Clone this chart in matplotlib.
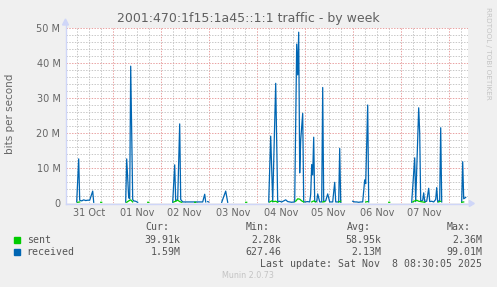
import numpy as np
import matplotlib
matplotlib.use("Agg")
import matplotlib.pyplot as plt
from matplotlib.lines import Line2D
from matplotlib.patches import Polygon, Rectangle
import matplotlib.transforms as mtransforms

# ---------------- data (hours since 31 Oct 00:00, values in Mbit/s) ----------------
N = None
recv_hours = [6.0, 7.0, 7.5, 8.5, 9.5, 10.5, 11.5, 12.5, 14.0, 14.5, N,
              30.5, 31.0, 32.0, 32.5, 33.0, 34.0, 34.5, 35.5, 36.5, N,
              54.0, 55.0, 55.5, 56.5, 57.5, 58.0, 59.0, 61.0, 63.0, 65.0, 67.0, 69.0, 70.0, 70.5, N,
              71.5, 72.0, N,
              78.5, 79.5, 80.5, 81.5, N,
              102.0, 103.0, 104.0, 105.5, 106.5, 107.5, 108.5, 109.5, 110.5, 111.5, 112.5, 113.5, 114.5,
              115.0, 116.0, 116.5, 117.0, 117.5, 118.0, 119.0, 119.5, 120.0, 121.5, 122.5,
              123.0, 123.5, 124.0, 124.5, 125.0, 126.0, 126.5, 127.5, 128.5, 129.0, 129.5,
              130.5, 131.5, 132.5, 134.0, 135.0, 135.5, 137.0, 137.5, 138.0, N,
              144.0, 145.0, 146.0, 147.0, 148.0, 149.0, 150.0, 150.5, 151.5, 152.0, N,
              173.5, 175.0, 175.5, 177.0, 177.5, 178.0, 179.0, 179.5, 180.0, 181.0, 182.0, 182.5,
              183.5, 184.5, 185.5, 186.0, 186.5, 187.5, 188.0, 188.5, N,
              198.5, 199.0, 199.5, 200.5]
recv_values = [0.3, 12.6, 0.8, 0.6, 0.9, 0.7, 0.8, 0.8, 3.4, 0.2, N,
               0.3, 12.6, 1.5, 1.2, 39.1, 1.0, 0.6, 0.5, 0.2, N,
               0.2, 10.9, 0.6, 1.0, 22.6, 1.0, 0.3, 0.3, 0.3, 0.3, 0.3, 0.3, 2.5, 0.3, N,
               0.4, 0.3, N,
               0.2, 1.8, 3.4, 0.2, N,
               0.3, 19.1, 0.3, 34.2, 0.4, 0.5, 0.3, 0.6, 0.9, 0.4, 0.3, 0.2, 0.3,
               0.3, 45.4, 36.6, 48.8, 8.6, 18.0, 25.6, 0.3, 0.3, 0.4, 0.3,
               2.5, 11.0, 8.0, 18.8, 0.4, 0.4, 2.6, 0.3, 0.3, 33.0, 0.4,
               0.6, 2.6, 0.3, 0.3, 5.9, 0.3, 0.3, 15.6, 0.2, N,
               0.5, 0.3, 0.3, 0.2, 0.3, 0.3, 6.6, 5.5, 28.0, 0.3, N,
               0.2, 12.9, 0.4, 27.2, 20.0, 0.5, 0.8, 2.9, 0.4, 0.5, 4.2, 0.4,
               0.5, 0.3, 1.0, 4.4, 0.3, 0.8, 21.5, 0.3, N,
               0.3, 11.8, 1.2, 1.6]

sent_hours = [6.5, 7.5, N, 18.0, 18.5, N, 31.0, 32.0, 33.0, 34.0, N, 41.5, 42.0, N,
              54.5, 55.5, 56.5, 57.5, 58.5, N, 65.0, 65.5, N, 90.5, 91.0, N,
              102.5, 103.5, 104.5, 105.5, 106.5, N, 115.5, 116.5, 117.5, 118.5, 119.5, N,
              123.5, 124.5, 125.5, N, 129.0, 130.0, N, 137.0, 138.0, N, 150.5, 151.5, N,
              162.0, 162.5, N, 174.0, 175.0, 176.0, 177.0, 178.0, 179.0, 180.0, N,
              187.0, 188.0, N, 198.5, 199.5]
sent_values = [0.2, 0.3, N, 0.2, 0.2, N, 0.2, 0.6, 0.9, 0.3, N, 0.2, 0.2, N,
               0.3, 0.5, 0.8, 0.4, 0.2, N, 0.2, 0.2, N, 0.2, 0.2, N,
               0.3, 0.6, 0.4, 0.5, 0.2, N, 0.5, 1.2, 1.1, 0.6, 0.3, N,
               0.3, 0.6, 0.3, N, 0.3, 0.4, N, 0.3, 0.5, N, 0.3, 0.4, N,
               0.2, 0.2, N, 0.3, 0.6, 0.8, 0.5, 0.4, 0.3, 0.2, N,
               0.3, 0.5, N, 0.2, 0.3]

day_labels = ["31 Oct", "01 Nov", "02 Nov", "03 Nov", "04 Nov", "05 Nov", "06 Nov", "07 Nov"]
y_ticks_m = [0, 10, 20, 30, 40, 50]
y_tick_labels = ["0", "10 M", "20 M", "30 M", "40 M", "50 M"]

legend_names = ["sent", "received"]
legend_colors = ["#00CC00", "#0066B3"]
stat_headers = ["Cur:", "Min:", "Avg:", "Max:"]
sent_stats = ["39.91k", "2.28k", "58.95k", "2.36M"]
recv_stats = ["1.59M", "627.46", "2.13M", "99.01M"]

title = "2001:470:1f15:1a45::1:1 traffic - by week"
last_update = "Last update: Sat Nov  8 08:30:05 2025"

# ---------------- figure ----------------
W, H = 497, 287
fig = plt.figure(figsize=(W / 100, H / 100), dpi=100, facecolor="#F0F0F0")

def fx(px):
    return px / W

def fy(py):
    return 1 - py / H

left, right, top, bottom = 66, 468.3, 28, 203
ax = fig.add_axes([fx(left), fy(bottom), (right - left) / W, (bottom - top) / H])
ax.set_facecolor("white")
x0, x1 = 0.65, 0.65 + (right - left) * 0.5
ax.set_xlim(x0, x1)
ax.set_ylim(0, 50e6)

for s in ax.spines.values():
    s.set_visible(False)

# grid
majors_x = np.arange(24, x1, 24)
minors_x = [h for h in np.arange(6, x1, 6) if h % 24 != 0]
ax.set_xticks(majors_x)
ax.set_xticks(minors_x, minor=True)
ax.set_xticklabels([])
ax.set_yticks([v * 1e6 for v in y_ticks_m])
ax.set_yticklabels(y_tick_labels)
ax.set_yticks(np.arange(2e6, 50e6, 2e6), minor=True)
ax.tick_params(axis="both", which="both", length=0)
ax.tick_params(axis="y", labelsize=7, labelcolor="#666666", pad=4)
ax.grid(True, which="major", color="#E9A3A3", linestyle=(0, (1.4, 1.4)), linewidth=0.72, zorder=0)
ax.grid(True, which="minor", color="#C8C8C8", linestyle=(0, (1.4, 1.4)), linewidth=0.72, zorder=0)
ax.set_axisbelow(True)

# x labels at noon
trans = mtransforms.blended_transform_factory(ax.transData, fig.transFigure)
for i, lab in enumerate(day_labels):
    ax.text(12 + 24 * i, fy(213), lab, transform=trans, ha="center", va="center",
            fontsize=7, color="#666666")

def arr(vals, scale=1.0):
    return np.array([np.nan if v is None else v * scale for v in vals], dtype=float)

ax.plot(arr(recv_hours), arr(recv_values, 1e6), color="#0066B3", linewidth=0.9, zorder=3)
ax.plot(arr(sent_hours), arr(sent_values, 1e6), color="#00CC00", linewidth=0.9, zorder=4)

# axes lines with arrows (munin style)
axis_col = "#CFD6F8"
fig.add_artist(Line2D([fx(left - 0.5), fx(left - 0.5)], [fy(bottom + 0.5), fy(24)],
                      color=axis_col, linewidth=1.0))
fig.add_artist(Line2D([fx(left - 0.5), fx(right + 2)], [fy(bottom + 0.5), fy(bottom + 0.5)],
                      color=axis_col, linewidth=1.0))
fig.add_artist(Polygon([[fx(left - 3.5), fy(25)], [fx(left + 2.5), fy(25)], [fx(left - 0.5), fy(19)]],
                       closed=True, color=axis_col, transform=fig.transFigure))
fig.add_artist(Polygon([[fx(right + 1), fy(bottom - 2.5)], [fx(right + 1), fy(bottom + 3.5)],
                        [fx(right + 6), fy(bottom + 0.5)]],
                       closed=True, color=axis_col, transform=fig.transFigure))

# texts
fig.text(fx(248), fy(18.5), title, ha="center", va="center", fontsize=9, color="#606060")
fig.text(fx(10), fy(114), "bits per second", rotation=90, ha="center", va="center",
         fontsize=7.5, color="#666666")
fig.text(fx(488), fy(53), "RRDTOOL / TOBI OETIKER", rotation=270, ha="center", va="center",
         fontsize=5.2, color="#C4C4C4")

mono = dict(family="DejaVu Sans Mono", fontsize=7.1, color="#555555", va="center")
header_x = [145.3, 246, 347, 447]
for hx, ht in zip(header_x, stat_headers):
    fig.text(fx(hx), fy(227.3), ht, ha="left", **mono)

stat_right = [180.5, 281.7, 381.7, 482.3]
rows_y = [240, 252]
for (name, col, stats, ry) in zip(legend_names, legend_colors, [sent_stats, recv_stats], rows_y):
    fig.add_artist(Rectangle((fx(14), fy(ry + 3)), 6 / W, 6 / H, color=col,
                             transform=fig.transFigure))
    fig.text(fx(26.7), fy(ry), name, ha="left", **mono)
    for sx, st in zip(stat_right, stats):
        fig.text(fx(sx), fy(ry), st, ha="right", **mono)

fig.text(fx(482.3), fy(263.7), last_update, ha="right", **mono)
fig.text(fx(248), fy(276), "Munin 2.0.73", ha="center", va="center", fontsize=5.8,
         color="#C4C4C4")

fig.savefig("out.png", dpi=100, facecolor=fig.get_facecolor())
